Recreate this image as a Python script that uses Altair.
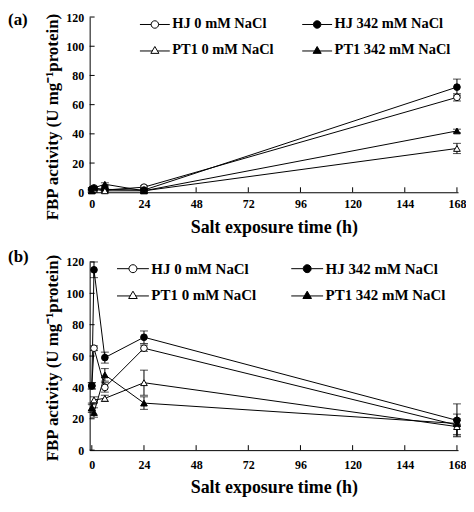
import altair as alt
import pandas as pd

# ---- data -------------------------------------------------------------
times = [0, 1, 6, 24, 168]
series = ["HJ 0 mM NaCl", "HJ 342 mM NaCl", "PT1 0 mM NaCl", "PT1 342 mM NaCl"]
x_ticks = [0, 24, 48, 72, 96, 120, 144, 168]
y_ticks = [0, 20, 40, 60, 80, 100, 120]

# panel (a)
a_hj0 = [2, 3, 1.5, 3.5, 65]
a_hj342 = [2, 2.5, 2, 1.5, 72]
a_pt0 = [1, 2, 1, 1, 30]
a_pt342 = [1, 3, 5.5, 1, 42]
a_hj0_err = [1, 1, 1, 1, 2.5]
a_hj342_err = [1, 1, 1, 1, 5.5]
a_pt0_err = [1, 1, 1, 1, 3.5]
a_pt342_err = [1, 1, 1, 1, 1.2]

# panel (b)
b_hj0 = [41, 65, 40, 65, 16]
b_hj342 = [41, 115, 59, 72, 19]
b_pt0 = [27, 32, 33, 43, 15]
b_pt342 = [27, 24, 48, 30, 17]
b_hj0_err = [2, 1.5, 3, 2, 7]
b_hj342_err = [2, 5, 3.5, 4, 10.5]
b_pt0_err = [2, 2, 2, 8, 5]
b_pt342_err = [3, 3, 4, 4, 2]

# ---- styling ------------------------------------------------------------
FONT = "Liberation Serif"
shapes = ["circle", "circle", "triangle-up", "triangle-up"]
fills = ["white", "black", "white", "black"]
strokes = ["black", "black", "black", "black"]
CIRC = "M-1,0L-0.25,0M0.25,0L1,0M-0.25,0A0.25,0.25 0 1,0 0.25,0A0.25,0.25 0 1,0 -0.25,0Z"
TRI = "M-1,0.04L-0.17,0.04M0.17,0.04L1,0.04M0,-0.26L0.27,0.2L-0.27,0.2Z"
legend_paths = [CIRC, CIRC, TRI, TRI]


def make_df(vals, errs):
    rows = []
    for s, v, e in zip(series, vals, errs):
        for t, vv, ee in zip(times, v, e):
            rows.append({"t": t, "v": vv, "lo": vv - ee, "hi": vv + ee, "series": s})
    return pd.DataFrame(rows)


def panel(df, height, label, legend_x, legend_y, col_pad, row_pad, leg_font, sym_size,
          title_y, lab_pad, tit_pad, title_dy):
    xs = alt.Scale(domain=[-1, 168.5], nice=False, zero=False)
    ys = alt.Scale(domain=[0, 120], nice=False)
    x_axis = alt.Axis(values=x_ticks, ticks=False, grid=False, labelPadding=lab_pad,
                      labelOverlap=False, titlePadding=tit_pad, title="Salt exposure time (h)")
    y_axis = alt.Axis(values=y_ticks, ticks=False, grid=False, labelPadding=6, labelOverlap=False,
                      title="FBP activity (U mg\u207b\u00b9protein)", titleY=title_y, titleFontSize=17)

    def X(f):
        return alt.X(f, scale=xs, axis=x_axis)

    def Y(f):
        return alt.Y(f, scale=ys, axis=y_axis)

    base = alt.Chart(df)
    lines = base.mark_line(color="black", strokeWidth=1).encode(x=X("t:Q"), y=Y("v:Q"), detail="series:N")
    err = base.mark_rule(color="black", strokeWidth=1).encode(x=X("t:Q"), y=Y("lo:Q"), y2="hi:Q")
    cap_lo = base.mark_tick(orient="horizontal", size=8, thickness=1, color="black").encode(
        x=X("t:Q"), y=Y("lo:Q"))
    cap_hi = base.mark_tick(orient="horizontal", size=8, thickness=1, color="black").encode(
        x=X("t:Q"), y=Y("hi:Q"))
    pts = base.mark_point(filled=True, stroke="black", strokeWidth=1, size=45, opacity=1).encode(
        x=X("t:Q"), y=Y("v:Q"),
        shape=alt.Shape("series:N", scale=alt.Scale(domain=series, range=shapes), legend=None),
        fill=alt.Fill("series:N", scale=alt.Scale(domain=series, range=fills), legend=None),
    )
    leg = alt.Legend(orient="none", legendX=legend_x, legendY=legend_y, columns=2, title=None,
                     direction="horizontal",
                     labelFont=FONT, labelFontSize=leg_font, labelFontWeight="bold", labelColor="black",
                     symbolSize=sym_size, symbolStrokeWidth=1, symbolOpacity=1,
                     labelOffset=2, rowPadding=row_pad, columnPadding=col_pad, padding=0)
    legend_layer = base.transform_filter("false").mark_point(
        filled=False, opacity=1, strokeWidth=1
    ).encode(
        x=X("t:Q"), y=Y("v:Q"),
        shape=alt.Shape("series:N", scale=alt.Scale(domain=series, range=legend_paths), legend=leg),
        fill=alt.Fill("series:N", scale=alt.Scale(domain=series, range=fills), legend=leg),
        stroke=alt.Stroke("series:N", scale=alt.Scale(domain=series, range=strokes), legend=leg),
    )
    tdx = pd.DataFrame({"tv": x_ticks})
    tdy = pd.DataFrame({"tv": y_ticks})
    xt = alt.Chart(tdx).mark_rule(color="black", strokeWidth=1).encode(
        x=X("tv:Q"), y=alt.value(height), y2=alt.value(height - 5))
    yt = alt.Chart(tdy).mark_rule(color="black", strokeWidth=1).encode(
        y=Y("tv:Q"), x=alt.value(0), x2=alt.value(5))

    return alt.layer(lines, xt, yt, err, cap_lo, cap_hi, pts, legend_layer).resolve_scale(
        shape="independent", fill="independent", stroke="independent"
    ).properties(
        width=370, height=height,
        title=alt.TitleParams(label, anchor="start", frame="bounds", font=FONT, fontSize=17,
                              fontWeight="bold", color="black", dx=-36, dy=title_dy),
    )


pa = panel(make_df([a_hj0, a_hj342, a_pt0, a_pt342], [a_hj0_err, a_hj342_err, a_pt0_err, a_pt342_err]),
           176, "(a)", 50, -8, 26, 4, 14.5, 900, 100, 6, 9, 24)
pb = panel(make_df([b_hj0, b_hj342, b_pt0, b_pt342], [b_hj0_err, b_hj342_err, b_pt0_err, b_pt342_err]),
           189, "(b)", 27, -10, 32, 2, 15, 1024, 96, 9, 9, 18)

chart = alt.vconcat(pa, pb, spacing=70, bounds="flush").properties(padding=0).configure_view(
    stroke=None
).configure_axis(
    domainColor="black", domainWidth=1, labelFont=FONT, labelFontSize=12, labelFontWeight="bold",
    labelColor="black", titleFont=FONT, titleFontSize=18, titleFontWeight="bold", titleColor="black"
)

chart.save("out.html", embed_options={"renderer": "svg", "actions": False})
